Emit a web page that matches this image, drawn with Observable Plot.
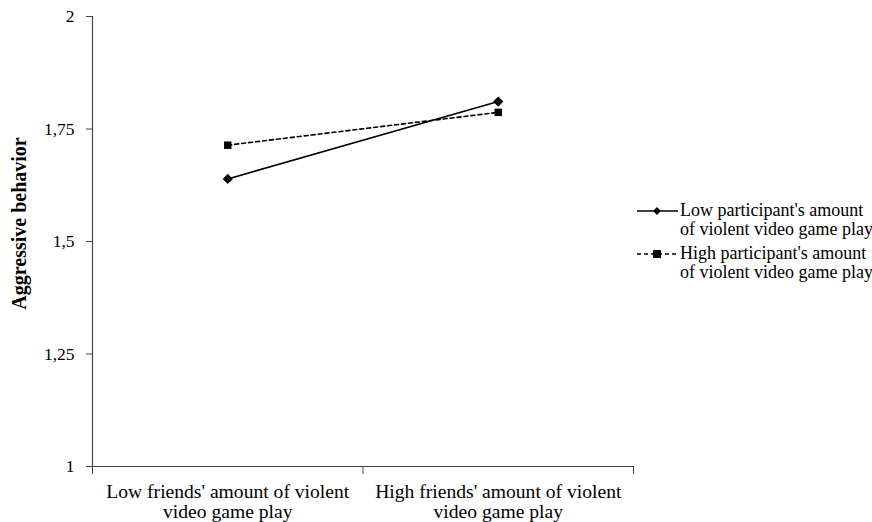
<!DOCTYPE html>
<html>
<head>
<meta charset="utf-8">
<script src="https://cdn.jsdelivr.net/npm/d3@7"></script>
<script src="https://cdn.jsdelivr.net/npm/@observablehq/plot@0.6"></script>
<style>
  html, body { margin: 0; padding: 0; background: #fff; overflow: hidden; }
  #wrap { position: relative; width: 872px; height: 522px; font-family: "Liberation Serif", "Times New Roman", serif; }
  #legend { position: absolute; left: 636px; top: 201px; font-size: 18px; line-height: 19px; color: #000; white-space: nowrap; }
  .item { display: flex; align-items: flex-start; margin-bottom: 5px; }
  .item svg { flex: none; margin-top: 0px; }
</style>
</head>
<body>
<div id="wrap"><div id="legend"></div></div>
<script>
const friendLevels = ["Low friends' amount of violent\nvideo game play", "High friends' amount of violent\nvideo game play"];
const seriesNames = ["Low participant's amount of violent video game play", "High participant's amount of violent video game play"];
const lowParticipant = [1.639, 1.811];
const highParticipant = [1.714, 1.787];
const yTicks = [1, 1.25, 1.5, 1.75, 2];
const yLabel = "Aggressive behavior";

const data = [];
[lowParticipant, highParticipant].forEach((vals, s) => {
  vals.forEach((v, i) => data.push({series: seriesNames[s], xi: i, value: v}));
});
const xDomain = [-0.5, friendLevels.length - 0.5];
const xBounds = d3.range(friendLevels.length + 1).map(i => i - 0.5);
const xCenters = d3.range(friendLevels.length);
const fmt = d => String(d).replace(".", ",");

const chart = Plot.plot({
  width: 872,
  height: 522,
  marginLeft: 92,
  marginRight: 239,
  marginTop: 16,
  marginBottom: 56,
  style: { fontFamily: "Liberation Serif, Times New Roman, serif", fontSize: "18px", color: "#000", background: "#fff" },
  x: { domain: xDomain },
  y: { domain: [yTicks[0], yTicks[yTicks.length - 1]] },
  marks: [
    Plot.ruleX([xDomain[0]], { stroke: "#444", strokeWidth: 1.2 }),
    Plot.ruleY([yTicks[0]], { stroke: "#444", strokeWidth: 1.2 }),
    Plot.axisY({ ticks: yTicks, tickFormat: fmt, tickSize: 6, tickPadding: 12, stroke: "#444", fontSize: 17.5, label: null }),
    Plot.axisX({ ticks: xBounds, tickFormat: () => "", tickSize: 8, stroke: "#444", label: null }),
    Plot.axisX({ ticks: xCenters, tickFormat: i => friendLevels[i], tickSize: 0, tickPadding: 18, fontSize: 19.6, lineHeight: 0.99, label: null }),
    Plot.text([yLabel], { frameAnchor: "left", textAnchor: "middle", dx: -73, dy: -18, rotate: -90, fontWeight: "bold", fontSize: 20, text: d => d }),
    Plot.line(data.filter(d => d.series === seriesNames[0]), { x: "xi", y: "value", stroke: "#000", strokeWidth: 1.6 }),
    Plot.line(data.filter(d => d.series === seriesNames[1]), { x: "xi", y: "value", stroke: "#000", strokeWidth: 1.6, strokeDasharray: "4,3" }),
    Plot.dot(data.filter(d => d.series === seriesNames[0]), { x: "xi", y: "value", symbol: "diamond2", r: 4.6, fill: "#000", stroke: "none" }),
    Plot.dot(data.filter(d => d.series === seriesNames[1]), { x: "xi", y: "value", symbol: "square", r: 4.2, fill: "#000" })
  ]
});
const wrap = document.getElementById("wrap");
wrap.insertBefore(chart, wrap.firstChild);

const legend = document.getElementById("legend");
const splitName = n => { const k = n.indexOf(" of "); return [n.slice(0, k), n.slice(k + 1)]; };
seriesNames.forEach((name, s) => {
  const item = document.createElement("div");
  item.className = "item";
  const dash = s === 1 ? 'stroke-dasharray="4,3"' : '';
  const marker = s === 0
    ? '<path d="M21,6 L25,10 L21,14 L17,10 Z" fill="#000"/>'
    : '<rect x="17" y="6" width="8" height="8" fill="#000"/>';
  item.innerHTML = `<svg width="44" height="20"><line x1="1" x2="42" y1="10" y2="10" stroke="#000" stroke-width="1.4" ${dash}/>${marker}</svg><div>${splitName(name).join("<br>")}</div>`;
  legend.appendChild(item);
});
</script>
</body>
</html>
